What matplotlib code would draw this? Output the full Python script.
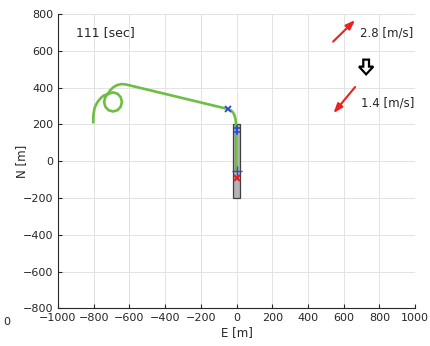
import matplotlib
matplotlib.use("Agg")
import matplotlib.pyplot as plt
import matplotlib.patches as mpatches

# ---- data ----
path_e = [-803, -802, -795, -780, -762, -742, -721,
          -692, -667, -649, -642, -649, -667, -692, -717, -735, -742, -735, -721,
          -708, -690, -668, -645, -620, -46,
          -30, -18, -10, -5, -3, -2, -2, -2]
path_n = [205, 250, 290, 320, 342, 358, 365,
          374, 367, 348, 322, 296, 277, 270, 277, 296, 322, 348, 365,
          385, 402, 414, 419, 417, 283,
          275, 262, 245, 225, 200, 150, 0, -55]

rect_e = [-20, 20]
rect_n = [-200, 200]

start_marker = (-46, 285)
mid_markers_e = [0, 0]
mid_markers_n = [182, 160]
end_marker = (0, -55)
target_marker = (0, -90)

wind1_tail, wind1_head = (541, 650), (664, 767)
wind2_tail, wind2_head = (664, 403), (543, 261)
wind1_label = "2.8 [m/s]"
wind2_label = "1.4 [m/s]"
time_label = "111 [sec]"

xticks = [-1000, -800, -600, -400, -200, 0, 200, 400, 600, 800, 1000]
yticks = [-800, -600, -400, -200, 0, 200, 400, 600, 800]

# ---- figure ----
fig = plt.figure(figsize=(4.31, 3.46), dpi=100)
ax = fig.add_axes([0.1346, 0.109, 0.8284, 0.8505])
ax.set_xlim(-1000, 1000)
ax.set_ylim(-800, 800)
ax.set_xticks(xticks)
ax.set_yticks(yticks)
ax.grid(True, color="#e3e3e3", linewidth=0.7)
ax.set_axisbelow(True)
for s in ["top", "right"]:
    ax.spines[s].set_visible(False)
for s in ["left", "bottom"]:
    ax.spines[s].set_color("#262626")
    ax.spines[s].set_linewidth(0.8)
ax.tick_params(direction="in", length=3, labelsize=8, colors="#262626", width=0.8)
ax.set_xlabel("E [m]", fontsize=8.5, color="#262626", labelpad=2)
ax.set_ylabel("N [m]", fontsize=8.5, color="#262626")
ax.yaxis.set_label_coords(-0.085, 0.5)

# rectangle
ax.add_patch(mpatches.Rectangle((rect_e[0], rect_n[0]), rect_e[1] - rect_e[0],
                                rect_n[1] - rect_n[0], facecolor="#b3b3b3",
                                edgecolor="#404040", linewidth=0.9, zorder=2))

# path
ax.plot(path_e, path_n, color="#6cbf40", linewidth=1.9, solid_capstyle="butt",
        solid_joinstyle="round", zorder=3)

# markers
ax.plot(*start_marker, marker="x", color="#2a4bd7", markersize=4, mew=1.3, zorder=4)
ax.plot(mid_markers_e, mid_markers_n, linestyle="none", marker="+", color="#2a4bd7",
        markersize=4, mew=1.2, zorder=4)
ax.plot(*end_marker, marker="+", color="#2a4bd7", markersize=7, mew=1.0, zorder=4)
ax.plot(*target_marker, marker="x", color="#e8202a", markersize=4.5, mew=1.6, zorder=4)

# wind arrows
for tail, head in [(wind1_tail, wind1_head), (wind2_tail, wind2_head)]:
    ax.annotate("", xy=head, xytext=tail,
                arrowprops=dict(arrowstyle="-|>,head_length=0.55,head_width=0.2",
                                color="#f02020", lw=1.5, shrinkA=0, shrinkB=0))
ax.text(692, 698, wind1_label, fontsize=8.5, color="#262626", va="center", ha="left")
ax.text(700, 316, wind2_label, fontsize=8.5, color="#262626", va="center", ha="left")

# hollow down arrow
ax.add_patch(mpatches.FancyArrow(726, 552, 0, -80, width=32, head_width=80,
                                 head_length=42, length_includes_head=True,
                                 facecolor="white", edgecolor="black", linewidth=1.6,
                                 zorder=5))

ax.text(-900, 700, time_label, fontsize=9, color="#262626", va="center", ha="left")

fig.text(3 / 431, 1 - 322 / 346, "0", fontsize=8, color="#262626", va="center", ha="left")

fig.savefig("out.png", dpi=100)
